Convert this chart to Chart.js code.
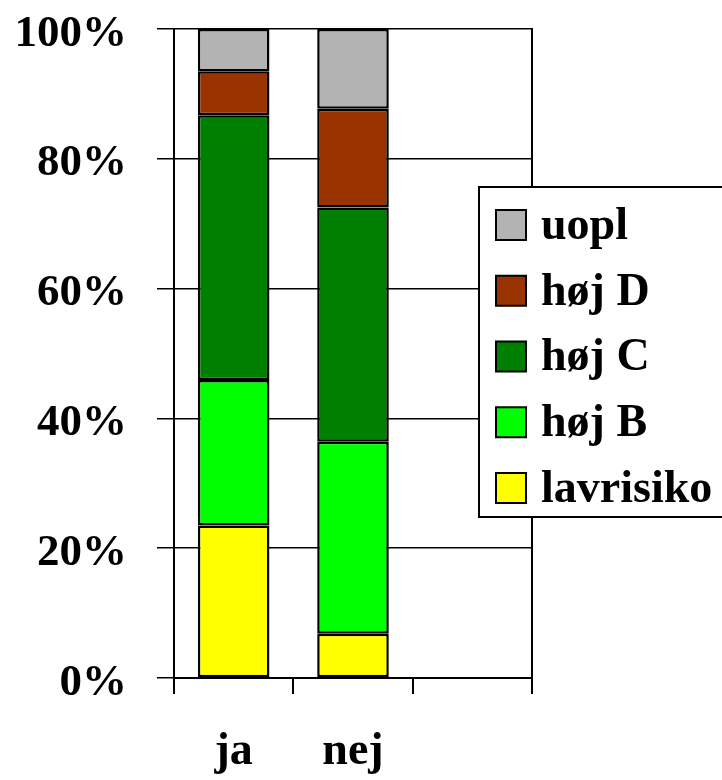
<!DOCTYPE html>
<html>
<head>
<meta charset="utf-8">
<script src="https://cdn.jsdelivr.net/npm/chart.js@4"></script>
<style>
  html, body { margin: 0; padding: 0; background: #ffffff; }
  #wrap { width: 722px; height: 780px; }
</style>
</head>
<body>
<div id="wrap"><canvas id="c" width="722" height="780"></canvas></div>
<script>
// ---- data ----
const categories = ['ja', 'nej', ''];
const seriesNames = ['lavrisiko', 'høj B', 'høj C', 'høj D', 'uopl'];
const lavrisiko = [23.5, 6.8, null];
const hojB = [22.4, 29.6, null];
const hojC = [40.8, 36.1, null];
const hojD = [6.8, 15.2, null];
const uopl = [6.5, 12.3, null];
const yTicks = [0, 20, 40, 60, 80, 100];
const seriesColors = ['#ffff00', '#00ff00', '#008000', '#993300', '#b3b3b3'];

const FONT = "'Liberation Serif', 'Times New Roman', serif";
const seriesValues = [lavrisiko, hojB, hojC, hojD, uopl];

const datasets = seriesNames.map((name, i) => ({
  label: name,
  data: seriesValues[i],
  backgroundColor: seriesColors[i],
  borderColor: '#000000',
  borderWidth: 2.5,
  borderSkipped: false,
  barPercentage: 0.6,
  categoryPercentage: 1.0
}));

const boxLegend = {
  id: 'boxLegend',
  afterDraw(chart) {
    const ctx = chart.ctx;
    ctx.save();
    ctx.fillStyle = '#ffffff';
    ctx.strokeStyle = '#000000';
    ctx.lineWidth = 2;
    ctx.fillRect(479, 187, 260, 330);
    ctx.strokeRect(479, 187, 260, 330);
    const ds = chart.data.datasets;
    const order = ds.map((d, i) => i).reverse();
    ctx.font = 'bold 46px ' + FONT;
    ctx.textBaseline = 'middle';
    ctx.textAlign = 'left';
    order.forEach((di, row) => {
      const cy = 225 + row * 65.75;
      ctx.fillStyle = ds[di].backgroundColor;
      ctx.fillRect(496, cy - 15, 30, 30);
      ctx.lineWidth = 2;
      ctx.strokeStyle = '#000000';
      ctx.strokeRect(496, cy - 15, 30, 30);
      ctx.fillStyle = '#000000';
      ctx.fillText(ds[di].label, 541, cy + 2);
    });
    ctx.restore();
  }
};

new Chart(document.getElementById('c'), {
  type: 'bar',
  data: { labels: categories, datasets: datasets },
  options: {
    responsive: false,
    animation: false,
    devicePixelRatio: 1,
    layout: { padding: { top: 29, right: 190, bottom: 0, left: 0 } },
    plugins: {
      legend: { display: false },
      tooltip: { enabled: false }
    },
    scales: {
      x: {
        stacked: true,
        offset: true,
        afterFit(scale) { scale.height = 102; scale.paddingLeft = 0; scale.paddingRight = 0; },
        grid: {
          display: true,
          offset: true,
          drawOnChartArea: false,
          drawTicks: true,
          tickLength: 16,
          tickColor: '#000000',
          color: '#000000',
          lineWidth: 2
        },
        border: { display: true, color: '#000000', width: 2 },
        ticks: {
          color: '#000000',
          padding: 31,
          font: { family: FONT, size: 46, weight: 'bold' },
          maxRotation: 0,
          autoSkip: false
        }
      },
      y: {
        stacked: true,
        min: 0,
        max: 100,
        afterFit(scale) { scale.width = 174; scale.paddingTop = 0; scale.paddingBottom = 0; },
        afterBuildTicks(scale) { scale.ticks = yTicks.map(v => ({ value: v })); },
        grid: {
          color: '#000000',
          lineWidth: 1.5,
          drawTicks: true,
          tickLength: 17,
          tickColor: '#000000'
        },
        border: { display: true, color: '#000000', width: 2 },
        ticks: {
          color: '#000000',
          padding: 30,
          labelOffset: 5,
          font: { family: FONT, size: 45, weight: 'bold' },
          callback: (v) => v + '%'
        }
      },
      yR: {
        position: 'right',
        min: 0,
        max: 100,
        afterFit(scale) { scale.width = 0; scale.paddingTop = 0; scale.paddingBottom = 0; },
        grid: { display: true, drawOnChartArea: false, drawTicks: false, color: '#000000' },
        border: { display: true, color: '#000000', width: 2 },
        ticks: { display: false }
      }
    }
  },
  plugins: [boxLegend]
});
</script>
</body>
</html>
